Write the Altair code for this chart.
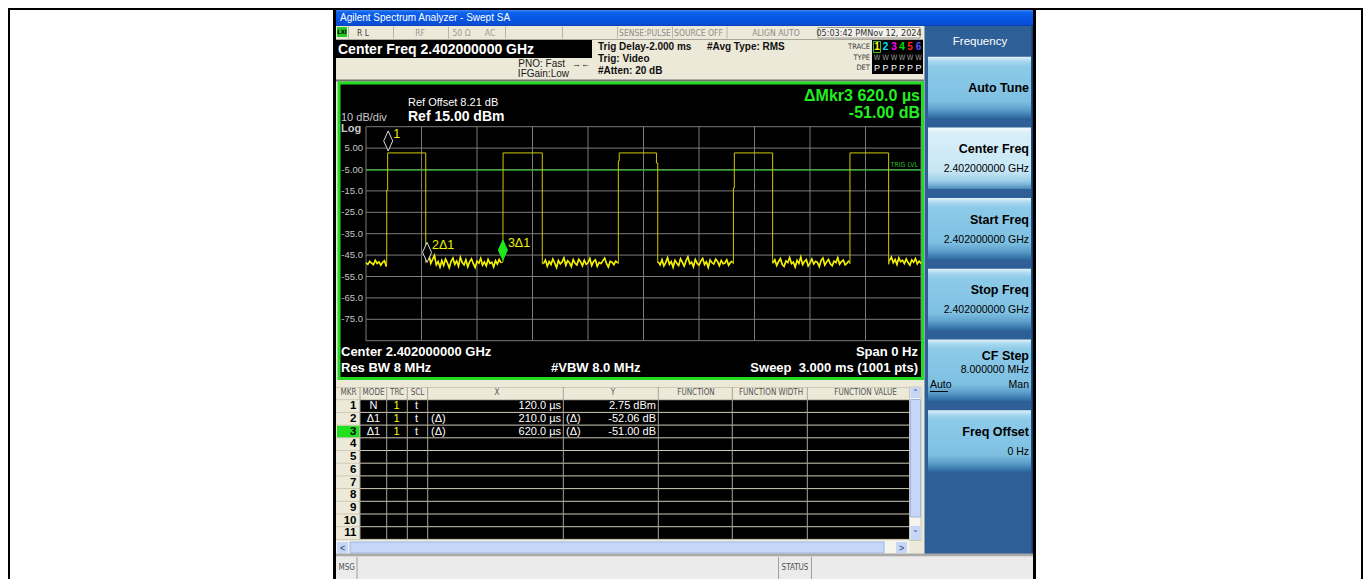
import altair as alt
import pandas as pd

SWEEP_US = 3000
Y_GRID_DBM = [15, 5, -5, -15, -25, -35, -45, -55, -65, -75, -85]
Y_TICK_LABELS = ["", "5.00", "-5.00", "-15.0", "-25.0", "-35.0", "-45.0", "-55.0", "-65.0", "-75.0", ""]
X_GRID_US = [0, 300, 600, 900, 1200, 1500, 1800, 2100, 2400, 2700, 3000]
TRIG_LEVEL_DBM = -5.3

# noise floor between bursts (one reading every 10 us, starting at NOISE_START_US)
NOISE_STEP_US = 10
NOISE_START_US = [0, 330, 960, 1580, 2200, 2830]
NOISE_DBM = [
    [-48.6, -49.3, -47.9, -48.8, -49.5, -47.4, -48.9, -48.2, -49.7, -48.4, -47.6, -50.3],
    [-46.2, -44.6, -48.9, -47.0, -45.1, -49.6, -48.0, -50.7, -47.5, -49.8,
     -46.8, -48.6, -51.0, -47.9, -46.4, -49.3, -47.7, -50.2, -46.0, -48.5,
     -49.6, -47.2, -50.5, -48.1, -46.7, -49.0, -50.8, -47.8, -48.8, -46.5,
     -49.7, -48.2, -50.1, -47.0, -48.9, -48.3, -50.6, -47.6, -49.2, -47.0, -48.6],
    [-48.9, -47.3, -50.2, -48.0, -49.4, -46.8, -48.7, -50.9, -47.5, -49.1,
     -48.2, -46.3, -49.8, -47.6, -48.5, -50.4, -47.1, -48.8, -49.6, -46.9,
     -48.1, -50.0, -47.4, -49.3, -48.6, -46.6, -49.9, -48.0, -47.2, -50.3,
     -48.4, -49.0, -47.7, -46.4, -48.9, -50.6, -47.9, -48.3, -49.5, -47.8, -48.7],
    [-48.2, -49.6, -47.1, -50.1, -48.5, -46.2, -49.3, -48.0, -50.7, -47.4,
     -48.8, -49.9, -46.7, -48.4, -50.2, -47.6, -45.8, -49.1, -48.3, -50.5,
     -47.0, -48.9, -49.7, -47.8, -46.5, -49.4, -48.1, -50.8, -47.3, -48.6,
     -49.2, -46.9, -48.0, -50.0, -47.5, -49.0, -48.7, -47.2, -49.8, -48.4, -47.9],
    [-48.7, -47.2, -49.9, -48.1, -46.6, -49.4, -50.3, -47.7, -48.5, -46.1,
     -49.0, -48.3, -50.6, -47.4, -48.9, -45.9, -49.5, -48.0, -47.1, -50.1,
     -48.6, -46.8, -49.2, -47.9, -48.4, -50.4, -47.5, -46.4, -49.7, -48.2,
     -47.0, -49.1, -50.0, -47.8, -48.5, -46.2, -49.3, -48.0, -47.3, -49.6, -48.8, -47.6],
    [-47.5, -45.9, -48.6, -47.0, -49.4, -46.3, -48.1, -47.4, -49.0, -46.8,
     -48.5, -49.7, -47.2, -48.3, -46.6, -49.1, -47.8, -48.9],
]
# burst edges and flat tops (time us, level dBm) between the noise stretches
EDGE_T_US = [
    [112, 112, 117, 117, 323, 323],
    [740, 741, 953, 953],
    [1364, 1364, 1369, 1369, 1570, 1570, 1577, 1577],
    [1986, 1986, 1991, 1991, 2198, 2198],
    [2616, 2616, 2825, 2825],
]
EDGE_DBM = [
    [-49.0, -14.6, -14.6, 2.75, 2.75, -48.4],
    [-48.25, 2.75, 2.75, -49.2],
    [-49.0, -1.0, -1.0, 2.75, 2.75, -2.0, -2.0, -48.7],
    [-49.1, -13.6, -13.6, 2.75, 2.75, -48.8],
    [-49.0, 2.75, 2.75, -49.3],
]

MARKER_T_US = [120, 330, 740]
MARKER_DBM = [2.75, -49.31, -48.25]
MARKER_LABELS = ["1", "2Δ1", "3Δ1"]
MARKER_ACTIVE = [False, False, True]

TABLE_MKR = [1, 2, 3, 4, 5, 6, 7, 8, 9, 10, 11]
TABLE_MODE = ["N", "Δ1", "Δ1"]
TABLE_TRC = ["1", "1", "1"]
TABLE_SCL = ["t", "t", "t"]
TABLE_XREF = ["", "(Δ)", "(Δ)"]
TABLE_X = ["120.0 µs", "210.0 µs", "620.0 µs"]
TABLE_YREF = ["", "(Δ)", "(Δ)"]
TABLE_Y = ["2.75 dBm", "-52.06 dB", "-51.00 dB"]

SOFTKEY_TITLES = ["Auto Tune", "Center Freq", "Start Freq", "Stop Freq", "CF Step", "Freq Offset"]
SOFTKEY_VALUES = ["", "2.402000000 GHz", "2.402000000 GHz", "2.402000000 GHz", "8.000000 MHz", "0 Hz"]

# ====================== layout (page pixels) ======================
OX, OY = 8, 8
W, H = 1355, 571
SANS = "Liberation Sans, Arial, sans-serif"
NARROW = "Liberation Sans Narrow, DejaVu Sans Condensed, Liberation Sans, sans-serif"

rects, rules, texts = [], [], []


def rect(x1, y1, x2, y2, fill, stroke="transparent", sw=0):
    rects.append(dict(x1=x1 - OX, x2=x2 - OX, y1=y1 - OY, y2=y2 - OY, fill=fill, stroke=stroke, sw=sw))


def rule(x1, y1, x2, y2, color, w=1):
    rules.append(dict(x1=x1 - OX, x2=x2 - OX, y1=y1 - OY, y2=y2 - OY, color=color, w=w))


def text(x, y, s, size=10, color="#000000", align="left", weight="normal", font=SANS):
    texts.append(dict(x=x - OX, y=y - OY, text=s, size=size, color=color, align=align, weight=weight, font=font))


# page frame and screenshot border
rect(8, 8, 1363, 10, "#000000")
rect(8, 8, 10, 579, "#000000")
rect(1361, 8, 1363, 579, "#000000")
rect(333, 8, 1036, 579, "#000000")
rect(336, 10, 1033, 579, "#ece9d8")

# title bar text
text(340, 17.8, "Agilent Spectrum Analyzer - Swept SA", 10, "#ffffff", "left", "normal", SANS)

# status row
rect(337, 27, 347, 37, "#22cc22")
rect(818, 27.5, 920, 38, "#f3f2ec", "#9c9a90", 1)
rule(336, 39.5, 923, 39.5, "#a8a59a")
for sx in [348, 393, 448, 505, 562, 617, 672, 726.5]:
    rule(sx + 0.5, 26.5, sx + 0.5, 38.5, "#bab7aa")
text(342, 32, "LXI", 6, "#000000", "center", "bold", NARROW)
text(357, 32.5, "R L", 8.5, "#404040", "left", "normal", NARROW)
text(420, 32.5, "RF", 8.5, "#9a9a9a", "center", "normal", NARROW)
text(461.5, 32.5, "50 Ω", 8.5, "#9a9a9a", "center", "normal", NARROW)
text(490, 32.5, "AC", 8.5, "#9a9a9a", "center", "normal", NARROW)
text(645, 32.5, "SENSE:PULSE", 8.5, "#8c8c8c", "center", "normal", NARROW)
text(698.5, 32.5, "SOURCE OFF", 8.5, "#8c8c8c", "center", "normal", NARROW)
text(776, 32.5, "ALIGN AUTO", 8.5, "#8c8c8c", "center", "normal", NARROW)
text(869, 32.7, "05:03:42 PMNov 12, 2024", 9, "#303030", "center", "normal", NARROW)

# header block
rect(336, 40, 592, 58, "#000000")
text(338, 49.5, "Center Freq 2.402000000 GHz", 14, "#ffffff", "left", "bold")
text(598, 46.5, "Trig Delay-2.000 ms", 10, "#101010", "left", "bold")
text(598, 58.5, "Trig: Video", 10, "#101010", "left", "bold")
text(598, 71, "#Atten: 20 dB", 10, "#101010", "left", "bold")
text(707, 46.5, "#Avg Type: RMS", 10, "#101010", "left", "bold")
text(565, 64, "PNO: Fast", 10, "#202020", "right")
text(569, 74, "IFGain:Low", 10, "#202020", "right")
text(581, 63.5, "→←", 9, "#202020", "center")

# trace info block
rect(872, 40, 923, 74, "#000000")
rect(873.5, 41.5, 880.5, 52.5, "#000000", "#3fbf3f", 1)
text(870, 47, "TRACE", 7.5, "#404040", "right", "normal", NARROW)
text(870, 57.5, "TYPE", 7.5, "#404040", "right", "normal", NARROW)
text(870, 68, "DET", 7.5, "#404040", "right", "normal", NARROW)
for tx, d, c in zip([877, 885.5, 894, 902, 910, 918.5], "123456",
                    ["#ffff00", "#00e0ff", "#ff00ff", "#00e000", "#ff2020", "#5050ff"]):
    text(tx, 47, d, 10, c, "center", "bold")
    text(tx, 57.5, "W", 7.5, "#9a9a9a", "center", "normal", NARROW)
    text(tx, 68, "P", 9, "#ffffff", "center")

rect(336, 79.5, 924, 81.5, "#6f6f6f")

# measurement area
rect(339, 83, 922.5, 378.5, "#000000", "#22dd22", 3)
text(408, 103, "Ref Offset 8.21 dB", 11, "#ffffff")
text(408, 117, "Ref 15.00 dBm", 14, "#ffffff", "left", "bold")
text(341, 118, "10 dB/div", 11, "#c8c8c8")
text(341, 129, "Log", 11, "#c8c8c8", "left", "bold")
text(920, 96, "ΔMkr3 620.0 µs", 16, "#22ee22", "right", "bold")
text(920, 113, "-51.00 dB", 16, "#22ee22", "right", "bold")
text(341, 351.5, "Center 2.402000000 GHz", 13, "#ffffff", "left", "bold")
text(341, 368, "Res BW 8 MHz", 13, "#ffffff", "left", "bold")
text(551, 368, "#VBW 8.0 MHz", 13, "#ffffff", "left", "bold")
text(918, 351.5, "Span 0 Hz", 13, "#ffffff", "right", "bold")
text(918, 368, "Sweep\u00a0\u00a03.000 ms (1001 pts)", 13, "#ffffff", "right", "bold")

# right soft-key panel
rect(924.5, 26, 1033, 556, "#2e5f96")
rect(1031.5, 26, 1033, 556, "#1b3d66")
text(980, 41.5, "Frequency", 11.5, "#ffffff", "center")
KEY_TOP = [56.7, 127.4, 198.1, 268.8, 339.5, 410.2]
key_norm, key_sel = [], []
for i, top in enumerate(KEY_TOP):
    box = dict(x1=928 - OX, x2=1031 - OX, y1=top - OY, y2=top + 61.5 - OY)
    (key_sel if i == 1 else key_norm).append(box)
    if SOFTKEY_VALUES[i]:
        text(1029, top + (16.8 if i == 4 else 21.5), SOFTKEY_TITLES[i], 12.5, "#000000", "right", "bold")
        text(1029, top + (30 if i == 4 else 41.5), SOFTKEY_VALUES[i], 10.5, "#000000", "right")
    else:
        text(1029, top + 31, SOFTKEY_TITLES[i], 12.5, "#000000", "right", "bold")
text(930, 385, "Auto", 10.5, "#000000", "left")
rule(930, 391.5, 948, 391.5, "#000000")
text(1029, 385, "Man", 10.5, "#000000", "right")

# marker table
ROW0, ROWH = 399.7, 12.7
rect(360, ROW0, 909.3, ROW0 + 11 * ROWH, "#000000")
rect(337, ROW0 + 2 * ROWH + 0.5, 359.5, ROW0 + 3 * ROWH, "#20e020")
rule(336, 387.5, 909.3, 387.5, "#cfcab8")
for i in range(12):
    rule(336, ROW0 + i * ROWH, 909.3, ROW0 + i * ROWH, "#cfcab8")
for cx in [360, 386.7, 407.3, 427.7, 563.3, 658.3, 732.3, 807.3]:
    rule(cx, 387, cx, ROW0 + 11 * ROWH, "#a8a496")
for hx, h in zip([348.5, 373.5, 397, 417.5, 497, 613, 696, 771, 865.5],
                 ["MKR", "MODE", "TRC", "SCL", "X", "Y", "FUNCTION", "FUNCTION WIDTH", "FUNCTION VALUE"]):
    text(hx, 393.3, h, 8, "#555555", "center", "normal", NARROW)
for i, n in enumerate(TABLE_MKR):
    text(356.5, ROW0 + i * ROWH + 6.6, str(n), 11.5, "#000000", "right", "bold")
for i in range(len(TABLE_MODE)):
    yc = ROW0 + i * ROWH + 6.6
    text(373.5, yc, TABLE_MODE[i], 11, "#ffffff", "center")
    text(396.5, yc, TABLE_TRC[i], 11, "#ffff00", "center")
    text(415, yc, TABLE_SCL[i], 11, "#ffffff", "left")
    if TABLE_XREF[i]:
        text(431, yc, TABLE_XREF[i], 11, "#ffffff", "left")
    text(561, yc, TABLE_X[i], 11, "#ffffff", "right")
    if TABLE_YREF[i]:
        text(566, yc, TABLE_YREF[i], 11, "#ffffff", "left")
    text(656, yc, TABLE_Y[i], 11, "#ffffff", "right")

# scroll bars
rect(909.5, 387, 921, 540.5, "#f4f3ee", "#c9c6b8", 1)
rect(910.5, 387.5, 920.5, 398, "#c5d6f7")
rect(910.5, 399.5, 920.5, 517, "#c5d6f7", "#9cb5e6", 1)
rect(910.5, 526, 920.5, 540, "#c5d6f7")
text(915.5, 393, "˄", 9, "#4d6185", "center", "bold", "DejaVu Sans")
text(915.5, 533.5, "˅", 9, "#4d6185", "center", "bold", "DejaVu Sans")
rect(336, 541, 909.5, 553.5, "#f4f3ee")
rect(337, 542, 348, 553, "#c5d6f7")
rect(350, 542, 884, 553, "#c5d6f7", "#9cb5e6", 1)
rect(896, 542, 907, 553, "#c5d6f7")
text(342.5, 547.5, "<", 9, "#4d6185", "center", "bold")
text(901.5, 547.5, ">", 9, "#4d6185", "center", "bold")

# status bar
rect(336, 553.5, 1033, 556.5, "#a9a9a9")
rect(336, 556.5, 1033, 579, "#ebebeb")
for sx in [357, 778.5, 811.5]:
    rule(sx, 557, sx, 579, "#a0a0a0")
text(338.5, 567.5, "MSG", 8, "#505050", "left", "normal", NARROW)
text(795, 567.5, "STATUS", 8, "#505050", "center", "normal", NARROW)

# ====================== build chart ======================


def px(field):
    return alt.X(field + ":Q", scale=None, axis=None)


def py(field):
    return alt.Y(field + ":Q", scale=None, axis=None)


layers = []
layers.append(
    alt.Chart(pd.DataFrame(rects)).mark_rect().encode(
        x=px("x1"), x2="x2:Q", y=py("y1"), y2="y2:Q",
        fill=alt.Fill("fill:N", scale=None, legend=None),
        stroke=alt.Stroke("stroke:N", scale=None, legend=None),
        strokeWidth=alt.StrokeWidth("sw:Q", scale=None, legend=None),
    )
)


def grad(stops):
    return {"gradient": "linear", "x1": 0, "y1": 0, "x2": 0, "y2": 1,
            "stops": [{"offset": o, "color": c} for o, c in stops]}


title_bar = [dict(x1=336 - OX, x2=1033 - OX, y1=10 - OY, y2=26 - OY)]
layers.append(
    alt.Chart(pd.DataFrame(title_bar)).mark_rect(
        fill=grad([(0, "#3d88f4"), (0.15, "#0f62ee"), (0.55, "#0656e4"), (0.9, "#0a4dd4"), (1, "#0a3fb0")])
    ).encode(x=px("x1"), x2="x2:Q", y=py("y1"), y2="y2:Q")
)
layers.append(
    alt.Chart(pd.DataFrame(key_norm)).mark_rect(
        fill=grad([(0, "#e4f3fb"), (0.07, "#a9d8ef"), (0.16, "#8ccae8"), (0.72, "#7fc0e2"),
                   (0.86, "#5c9fcb"), (1, "#2d69a0")])
    ).encode(x=px("x1"), x2="x2:Q", y=py("y1"), y2="y2:Q")
)
layers.append(
    alt.Chart(pd.DataFrame(key_sel)).mark_rect(
        fill=grad([(0, "#f4fafd"), (0.1, "#d9eff9"), (0.72, "#c6e6f5"), (0.88, "#98cbe6"), (1, "#4d8bbd")])
    ).encode(x=px("x1"), x2="x2:Q", y=py("y1"), y2="y2:Q")
)
layers.append(
    alt.Chart(pd.DataFrame(rules)).mark_rule().encode(
        x=px("x1"), x2="x2:Q", y=py("y1"), y2="y2:Q",
        color=alt.Color("color:N", scale=None, legend=None),
        strokeWidth=alt.StrokeWidth("w:Q", scale=None, legend=None),
    )
)

# ---- trace area, through data scales ----
XS = alt.Scale(domain=[0, SWEEP_US], range=[366 - OX, 921 - OX], nice=False, zero=False)
YS = alt.Scale(domain=[-85, 15], range=[340.7 - OY, 126.7 - OY], nice=False, zero=False)

hgrid = pd.DataFrame({"db": Y_GRID_DBM, "label": Y_TICK_LABELS,
                      "t0": [0] * len(Y_GRID_DBM), "t1": [SWEEP_US] * len(Y_GRID_DBM)})
vgrid = pd.DataFrame({"t": X_GRID_US, "lo": [-85] * len(X_GRID_US), "hi": [15] * len(X_GRID_US)})
GRID_C = "#7a7a7a"
layers.append(alt.Chart(hgrid).mark_rule(color=GRID_C, strokeWidth=1).encode(
    x=alt.X("t0:Q", scale=XS, axis=None), x2="t1:Q", y=alt.Y("db:Q", scale=YS, axis=None)))
layers.append(alt.Chart(vgrid).mark_rule(color=GRID_C, strokeWidth=1).encode(
    x=alt.X("t:Q", scale=XS, axis=None), y=alt.Y("lo:Q", scale=YS, axis=None), y2="hi:Q"))
layers.append(alt.Chart(hgrid).mark_text(align="right", baseline="middle", dx=-3, font=SANS,
                                          fontSize=9.5, color="#c4c4c4").encode(
    x=alt.X("t0:Q", scale=XS, axis=None), y=alt.Y("db:Q", scale=YS, axis=None), text="label:N"))

trig = pd.DataFrame({"t0": [0], "t1": [SWEEP_US], "db": [TRIG_LEVEL_DBM], "label": ["TRIG LVL"]})
layers.append(alt.Chart(trig).mark_rule(color="#22cc22", strokeWidth=1).encode(
    x=alt.X("t0:Q", scale=XS, axis=None), x2="t1:Q", y=alt.Y("db:Q", scale=YS, axis=None)))
layers.append(alt.Chart(trig).mark_text(align="right", baseline="middle", dx=-3, dy=-5, font=NARROW,
                                         fontSize=7, color="#22bb22").encode(
    x=alt.X("t1:Q", scale=XS, axis=None), y=alt.Y("db:Q", scale=YS, axis=None), text="label:N"))

trace_t, trace_db, seg = [], [], []
for k, start in enumerate(NOISE_START_US):
    for j, v in enumerate(NOISE_DBM[k]):
        trace_t.append(start + j * NOISE_STEP_US)
        trace_db.append(v)
        seg.append(k)
    if k < len(EDGE_T_US):
        trace_t += EDGE_T_US[k]
        trace_db += EDGE_DBM[k]
        seg += [-1] * len(EDGE_T_US[k])
trace = pd.DataFrame({"t": trace_t, "db": trace_db, "i": list(range(len(trace_t))), "seg": seg})
layers.append(alt.Chart(trace).mark_line(color="#cfc900", strokeWidth=1).encode(
    x=alt.X("t:Q", scale=XS, axis=None), y=alt.Y("db:Q", scale=YS, axis=None), order="i:Q"))
# the noise floor stretches look brighter / denser on screen
layers.append(alt.Chart(trace[trace["seg"] >= 0]).mark_line(color="#f2f000", strokeWidth=1.6).encode(
    x=alt.X("t:Q", scale=XS, axis=None), y=alt.Y("db:Q", scale=YS, axis=None),
    detail="seg:N", order="i:Q"))

DIAMOND = "M0,-0.2 L0.45,-1.2 L0,-2.2 L-0.45,-1.2 Z"
mk = pd.DataFrame({"t": MARKER_T_US, "db": MARKER_DBM, "label": MARKER_LABELS, "active": MARKER_ACTIVE})
layers.append(alt.Chart(mk[~mk["active"]]).mark_point(
    shape=DIAMOND, size=400, filled=True, fill="#000000", stroke="#dcdcdc", strokeWidth=1, opacity=1).encode(
    x=alt.X("t:Q", scale=XS, axis=None), y=alt.Y("db:Q", scale=YS, axis=None)))
layers.append(alt.Chart(mk[mk["active"]]).mark_point(
    shape=DIAMOND, size=400, filled=True, fill="#1ee81e", stroke="#1ee81e", strokeWidth=1, opacity=1).encode(
    x=alt.X("t:Q", scale=XS, axis=None), y=alt.Y("db:Q", scale=YS, axis=None)))
layers.append(alt.Chart(mk).mark_text(align="left", baseline="middle", dx=5, dy=-19, font=SANS,
                                       fontSize=12.5, color="#f0f000").encode(
    x=alt.X("t:Q", scale=XS, axis=None), y=alt.Y("db:Q", scale=YS, axis=None), text="label:N"))

# ---- chrome text ----
tdf = pd.DataFrame(texts)
for (align, weight, font), g in tdf.groupby(["align", "weight", "font"], sort=False):
    layers.append(alt.Chart(g.reset_index(drop=True)).mark_text(
        align=align, baseline="middle", fontWeight=weight, font=font).encode(
        x=px("x"), y=py("y"), text="text:N",
        color=alt.Color("color:N", scale=None, legend=None),
        size=alt.Size("size:Q", scale=None, legend=None)))

chart = alt.layer(*layers).properties(
    width=W, height=H, background="white", padding=0,
    autosize=alt.AutoSizeParams(type="none"),
).configure_view(strokeWidth=0)

chart.save("out.html", embed_options={"renderer": "svg", "actions": False})
